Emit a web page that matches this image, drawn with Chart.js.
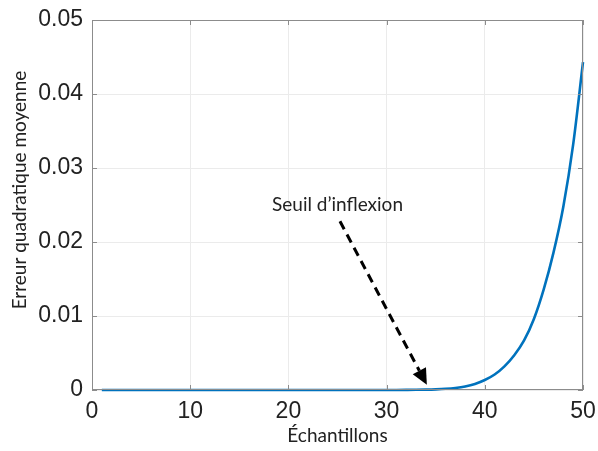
<!DOCTYPE html>
<html>
<head>
<meta charset="utf-8">
<script src="https://cdn.jsdelivr.net/npm/chart.js@4"></script>
<style>
  html, body { margin: 0; padding: 0; background: #fff; }
  #wrap { width: 598px; height: 451px; }
</style>
</head>
<body>
<div id="wrap"><canvas id="chart" width="598" height="451"></canvas></div>
<script>
// echantillons (x) et erreur quadratique moyenne (y)
var echantillons = [1, 2, 3, 4, 5, 6, 7, 8, 9, 10,
    11, 12, 13, 14, 15, 16, 17, 18, 19, 20,
    21, 22, 23, 24, 25, 26, 27, 28, 29, 30,
    31, 32, 33, 34, 35, 36, 37, 38, 39, 40,
    41, 42, 43, 44, 45, 46, 47, 48, 49, 50];
var erreur = [0.0000001, 0.0000001, 0.0000001, 0.0000001, 0.0000001, 0.0000001, 0.0000001, 0.0000001, 0.0000001, 0.0000001,
    0.0000001, 0.0000001, 0.0000001, 0.0000002, 0.0000002, 0.0000002, 0.0000003, 0.0000003, 0.0000004, 0.0000005,
    0.0000006, 0.0000008, 0.000001, 0.0000013, 0.0000017, 0.0000022, 0.0000029, 0.0000038, 0.000005, 0.0000065,
    0.000009, 0.000016, 0.000028, 0.00005, 0.00009, 0.00016, 0.00028, 0.00048, 0.00082, 0.00135,
    0.0021, 0.0032, 0.0047, 0.0067, 0.0096, 0.0136, 0.0186, 0.0248, 0.0332, 0.0443];
var xTicks = [0, 10, 20, 30, 40, 50];
var yTicks = [0, 0.01, 0.02, 0.03, 0.04, 0.05];
var yTickLabels = ["0", "0.01", "0.02", "0.03", "0.04", "0.05"];

// annotation (coordonnees en unites des donnees)
var noteText = "Seuil d\u2019inflexion";
var noteAt = [25, 0.0242];
var arrowFrom = [25.25, 0.0228];
var arrowTo = [34.1, 0.0007];
var yTitle = "Erreur quadratique moyenne";

var tickFont = { family: "'Liberation Sans', Arial, Helvetica, sans-serif", size: 23 };
var labelFont = { family: "Lato, 'Open Sans', sans-serif", size: 19 };

var frame = {
    id: "frame",
    afterDraw: function (chart) {
        var ctx = chart.ctx;
        var a = chart.chartArea;
        var xs = chart.scales.x, ys = chart.scales.y;
        ctx.save();
        // cadre
        ctx.strokeStyle = "#8c8c8c";
        ctx.lineWidth = 1;
        ctx.strokeRect(a.left + 0.5, a.top + 0.5, a.right - a.left - 1, a.bottom - a.top - 1);
        // graduations vers l'interieur
        ctx.beginPath();
        xTicks.forEach(function (v) {
            var px = Math.round(xs.getPixelForValue(v)) + 0.5;
            ctx.moveTo(px, a.bottom); ctx.lineTo(px, a.bottom - 5);
            ctx.moveTo(px, a.top); ctx.lineTo(px, a.top + 5);
        });
        yTicks.forEach(function (v) {
            var py = Math.round(ys.getPixelForValue(v)) + 0.5;
            ctx.moveTo(a.left, py); ctx.lineTo(a.left + 5, py);
            ctx.moveTo(a.right, py); ctx.lineTo(a.right - 5, py);
        });
        ctx.stroke();

        ctx.fillStyle = "#222";
        ctx.font = labelFont.size + "px " + labelFont.family;
        ctx.textBaseline = "alphabetic";

        // titre de l'axe y (un peu au-dessus du centre, comme l'original)
        ctx.save();
        ctx.translate(26, 190);
        ctx.rotate(-Math.PI / 2);
        ctx.textAlign = "center";
        ctx.fillText(yTitle, 0, 0);
        ctx.restore();

        // texte
        ctx.textAlign = "center";
        ctx.fillText(noteText, xs.getPixelForValue(noteAt[0]), ys.getPixelForValue(noteAt[1]));

        // fleche en pointilles
        var x0 = xs.getPixelForValue(arrowFrom[0]), y0 = ys.getPixelForValue(arrowFrom[1]);
        var x1 = xs.getPixelForValue(arrowTo[0]), y1 = ys.getPixelForValue(arrowTo[1]);
        var ang = Math.atan2(y1 - y0, x1 - x0);
        var head = 16, half = 7.5;
        var bx = x1 - head * Math.cos(ang), by = y1 - head * Math.sin(ang);
        ctx.strokeStyle = "#000";
        ctx.lineWidth = 3;
        ctx.setLineDash([9, 6]);
        ctx.beginPath();
        ctx.moveTo(x0, y0);
        ctx.lineTo(bx, by);
        ctx.stroke();
        ctx.setLineDash([]);
        ctx.fillStyle = "#000";
        ctx.beginPath();
        ctx.moveTo(x1, y1);
        ctx.lineTo(bx + half * Math.sin(ang), by - half * Math.cos(ang));
        ctx.lineTo(bx - half * Math.sin(ang), by + half * Math.cos(ang));
        ctx.closePath();
        ctx.fill();
        ctx.restore();
    }
};

var points = echantillons.map(function (x, i) { return { x: x, y: erreur[i] }; });

new Chart(document.getElementById("chart").getContext("2d"), {
    type: "line",
    data: {
        datasets: [{
            label: "EQM",
            data: points,
            borderColor: "#0072BD",
            backgroundColor: "#0072BD",
            borderWidth: 2.6,
            pointRadius: 0,
            cubicInterpolationMode: "monotone",
            clip: false
        }]
    },
    options: {
        responsive: false,
        animation: false,
        layout: { padding: { top: 20, right: 15, bottom: 0, left: 0 } },
        plugins: { legend: { display: false }, tooltip: { enabled: false } },
        scales: {
            x: {
                type: "linear",
                min: 0, max: 50,
                afterBuildTicks: function (s) { s.ticks = xTicks.map(function (v) { return { value: v }; }); },
                afterFit: function (s) { s.height = 61; s.paddingLeft = 0; s.paddingRight = 0; },
                ticks: { font: tickFont, color: "#222", padding: 8, maxRotation: 0 },
                grid: { color: "#ebebeb", drawTicks: false },
                border: { display: false },
                title: { display: true, text: "\u00c9chantillons", font: labelFont, color: "#222", padding: { top: 0, bottom: 4 } }
            },
            y: {
                type: "linear",
                min: 0, max: 0.05,
                afterBuildTicks: function (s) { s.ticks = yTicks.map(function (v) { return { value: v }; }); },
                afterFit: function (s) { s.width = 92; s.paddingTop = 0; s.paddingBottom = 0; },
                ticks: {
                    font: tickFont, color: "#222", padding: 9,
                    callback: function (v) { return yTickLabels[yTicks.indexOf(v)]; }
                },
                grid: { color: "#ebebeb", drawTicks: false },
                border: { display: false }
            }
        }
    },
    plugins: [frame]
});
</script>
</body>
</html>
